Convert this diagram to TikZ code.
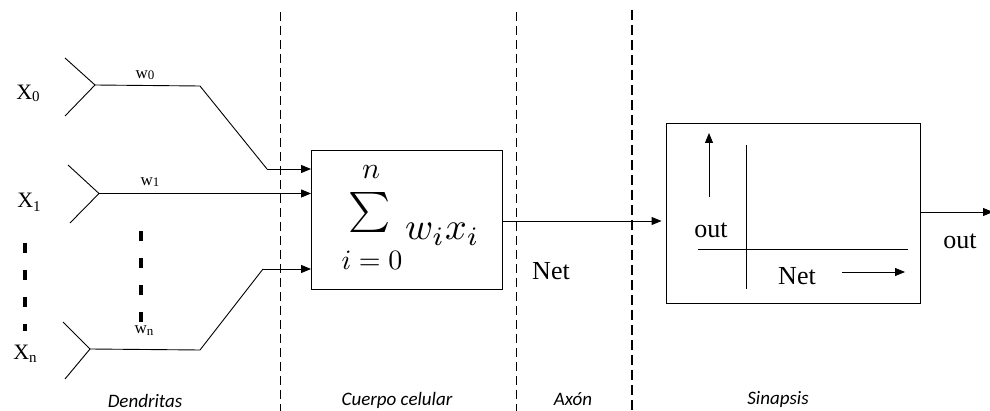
\documentclass[tikz,border=0pt]{standalone}
\usepackage{graphicx}
\usepackage{fontspec}
\setmainfont{Liberation Serif}
\newfontfamily\regionfont{Carlito}
\usetikzlibrary{arrows.meta}
\begin{document}
\begin{tikzpicture}[x=1pt,y=-1pt,
  wire/.style={line width=0.9pt},
  arr/.style={wire,-{Triangle[length=10pt,width=8pt]}},
  sepline/.style={line width=0.9pt, dash pattern=on 9pt off 5pt},
  septhick/.style={line width=1.5pt, dash pattern=on 10pt off 5pt},
  dotcol/.style={line width=4pt, dash pattern=on 10pt off 17pt},
  box/.style={draw, line width=0.9pt, rectangle, inner sep=0pt},
  bigtxt/.style={font=\fontsize{26}{30}\selectfont, inner sep=0pt},
  xtxt/.style={font=\fontsize{22}{26}\selectfont, inner sep=0pt},
  wtxt/.style={font=\fontsize{17}{20}\selectfont, inner sep=0pt},
  region/.style={font=\regionfont\itshape\fontsize{19}{22}\selectfont, inner sep=0pt},
  mathtxt/.style={inner sep=0pt}
]
\useasboundingbox (0,0) rectangle (990,411);

% separators
\coordinate (s1t) at (280,12);  \coordinate (s1b) at (280,411);
\coordinate (s2t) at (516,12);  \coordinate (s2b) at (516,411);
\coordinate (s3t) at (632,10);  \coordinate (s3b) at (632,411);
\draw[sepline] (s1t) -- (s1b);
\draw[sepline] (s2t) -- (s2b);
\draw[septhick] (s3t) -- (s3b);

% boxes
\node[box, minimum width=191pt, minimum height=139pt] (body) at (407,219.5) {};
\node[box, minimum width=254pt, minimum height=180pt] (syn) at (793,213) {};

% dendrite 0
\coordinate (a0) at (65,58); \coordinate (f0) at (95,85); \coordinate (b0) at (65,116);
\coordinate (k0) at (200,86); \coordinate (m0) at (267,169);
\draw[wire] (a0) -- (f0) -- (b0);
\draw[wire] (f0) -- (k0) -- (m0);
\draw[arr] (m0) -- (m0 -| body.west);

% dendrite 1
\coordinate (a1) at (68,165); \coordinate (f1) at (99,193.5); \coordinate (b1) at (70,223);
\draw[wire] (a1) -- (f1) -- (b1);
\draw[arr] (f1) -- (f1 -| body.west);

% dendrite n
\coordinate (an) at (63,322); \coordinate (fn) at (90,349); \coordinate (bn) at (65,379);
\coordinate (kn) at (200,350); \coordinate (mn) at (263,269);
\draw[wire] (an) -- (fn) -- (bn);
\draw[wire] (fn) -- (kn) -- (mn);
\draw[arr] (mn) -- (mn -| body.west);

% thick dotted columns
\coordinate (p1t) at (25,243); \coordinate (p1b) at (25,331);
\coordinate (p2t) at (141,231); \coordinate (p2b) at (141,323);
\draw[dotcol] (p1t) -- (p1b);
\draw[dotcol] (p2t) -- (p2b);

% input labels
\node[xtxt] (x0) at (28,93) {X\raisebox{-2pt}{\fontsize{15}{15}\selectfont 0}};
\node[xtxt] (x1) at (29,202) {X\raisebox{-4pt}{\fontsize{15}{15}\selectfont 1}};
\node[xtxt] (xn) at (25,354) {X\raisebox{-3pt}{\fontsize{15}{15}\selectfont n}};
\node[wtxt] (w0) at (145,75) {w\raisebox{-1pt}{\fontsize{13}{13}\selectfont 0}};
\node[wtxt] (w1) at (150,182) {w\raisebox{-1pt}{\fontsize{13}{13}\selectfont 1}};
\node[wtxt] (wn) at (144,331) {w\raisebox{-2pt}{\fontsize{13}{13}\selectfont n}};

% summation
\node[mathtxt] (sn) at (371,172) {\scalebox{3}{$n$}};
\node[mathtxt] (ssum) at (370,213) {\scalebox{4}{$\textstyle\sum$}};
\node[mathtxt, anchor=base west] (swx) at (405,240) {\scalebox{3.8}{$w_i x_i$}};
\node[mathtxt, anchor=base] (si) at (372,270) {\scalebox{2.8}{$i=0$}};

% body to synapse
\coordinate (o1) at (503,221);
\draw[arr, shorten >=4pt] (o1 -| body.east) -- (o1 -| syn.west);
\node[bigtxt] (net1) at (551,271) {Net};

% inside synapse
\coordinate (ua) at (709,197); \coordinate (ub) at (709,133);
\draw[arr] (ua) -- (ub);
\coordinate (va) at (746,145); \coordinate (vb) at (746,289);
\draw[wire] (va) -- (vb);
\coordinate (ha) at (698,249); \coordinate (hb) at (908,249);
\draw[wire] (ha) -- (hb);
\coordinate (na) at (842,272); \coordinate (nb) at (905,272);
\draw[arr] (na) -- (nb);
\node[bigtxt] (out1) at (711,230) {out};
\node[bigtxt] (net2) at (797,276) {Net};

% output
\coordinate (o2) at (920,212); \coordinate (oend) at (993,212);
\draw[arr] (o2 -| syn.east) -- (oend);
\node[bigtxt] (out2) at (960,241) {out};

% region labels
\node[region] (r1) at (145,401) {Dendritas};
\node[region] (r2) at (397,400) {Cuerpo celular};
\node[region] (r3) at (573,399) {Axón};
\node[region] (r4) at (778,399) {Sinapsis};
\end{tikzpicture}
\end{document}
